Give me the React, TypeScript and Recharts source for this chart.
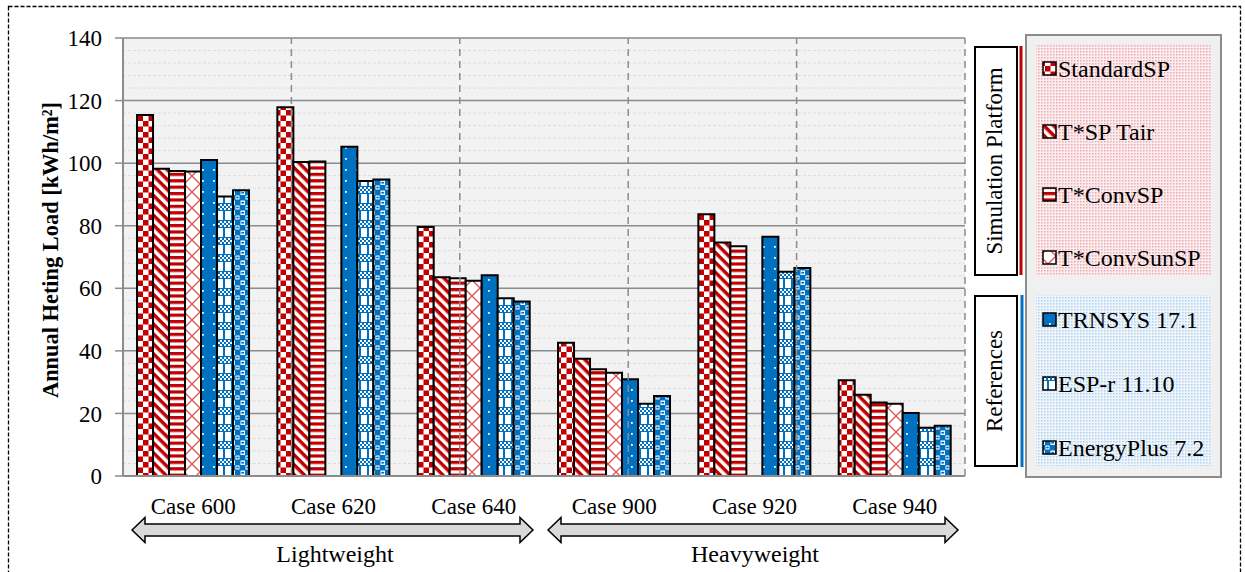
import { BarChart, Bar, XAxis, YAxis, CartesianGrid, ReferenceLine } from 'recharts';

const CASES = ['Case 600', 'Case 620', 'Case 640', 'Case 900', 'Case 920', 'Case 940'];

// Annual heating load, kWh/m2
const standardSP = [115.4, 117.9, 79.6, 42.6, 83.7, 30.6];
const tspTair = [98.2, 100.4, 63.5, 37.5, 74.6, 26.0];
const tConvSP = [97.5, 100.5, 63.2, 34.1, 73.4, 23.5];
const tConvSunSP = [97.3, null, 62.4, 33.0, null, 23.1];
const trnsys = [101.0, 105.2, 64.2, 30.9, 76.5, 20.1];
const espr = [89.3, 94.3, 56.8, 23.1, 65.3, 15.4];
const energyPlus = [91.3, 94.8, 55.8, 25.6, 66.5, 16.1];

const Y_TICKS = [0, 20, 40, 60, 80, 100, 120, 140];
const MINOR_TICKS = Array.from({ length: 36 }, (_, i) => i * 4);
const BOUNDARIES = [1, 2, 3, 4, 5, 6];

const SERIES = [
  { key: 'standardSP', label: 'StandardSP', pat: 'std', group: 'sim' },
  { key: 'tspTair', label: 'T*SP Tair', pat: 'tair', group: 'sim' },
  { key: 'tConvSP', label: 'T*ConvSP', pat: 'conv', group: 'sim' },
  { key: 'tConvSunSP', label: 'T*ConvSunSP', pat: 'sun', group: 'sim' },
  { key: 'trnsys', label: 'TRNSYS 17.1', pat: 'trn', group: 'ref' },
  { key: 'espr', label: 'ESP-r 11.10', pat: 'esp', group: 'ref' },
  { key: 'energyPlus', label: 'EnergyPlus 7.2', pat: 'ep', group: 'ref' },
];

const data = CASES.map((name, i) => ({
  name,
  standardSP: standardSP[i],
  tspTair: tspTair[i],
  tConvSP: tConvSP[i],
  tConvSunSP: tConvSunSP[i],
  trnsys: trnsys[i],
  espr: espr[i],
  energyPlus: energyPlus[i],
}));

const RED = '#C00000';
const BLUE = '#0070C0';
const FONT = '"Liberation Serif", "Times New Roman", serif';

const Patterns = ({ p }: { p: string }) => (
  <defs>
    <pattern id={p + 'std'} width={11} height={11} patternUnits="userSpaceOnUse">
      <rect width={11} height={11} fill="#fff" />
      <rect width={5.5} height={5.5} fill={RED} />
      <rect x={5.5} y={5.5} width={5.5} height={5.5} fill={RED} />
    </pattern>
    <pattern id={p + 'tair'} width={7} height={7} patternUnits="userSpaceOnUse" patternTransform="rotate(45)">
      <rect width={7} height={7} fill="#fff" />
      <rect width={7} height={3.5} fill={RED} />
    </pattern>
    <pattern id={p + 'conv'} width={6} height={6.4} patternUnits="userSpaceOnUse">
      <rect width={6} height={6.4} fill="#fff" />
      <rect width={6} height={3.2} fill={RED} />
    </pattern>
    <pattern id={p + 'sun'} width={16} height={16} patternUnits="userSpaceOnUse">
      <rect width={16} height={16} fill="#fff" />
      <path d="M0 0 L16 16 M16 0 L0 16" stroke="#E05050" strokeWidth={1.3} />
    </pattern>
    <pattern id={p + 'trn'} width={11} height={11} patternUnits="userSpaceOnUse">
      <rect width={11} height={11} fill={BLUE} />
      <rect x={4} y={4} width={1.8} height={1.8} fill="#fff" />
    </pattern>
    <pattern id={p + 'esp'} width={8} height={17} patternUnits="userSpaceOnUse">
      <rect width={8} height={17} fill={BLUE} />
      <rect x={0} y={0} width={2} height={2} fill="#fff" />
      <rect x={4} y={0} width={2} height={2} fill="#fff" />
      <rect x={2} y={2} width={2} height={2} fill="#fff" />
      <rect x={6} y={2} width={2} height={2} fill="#fff" />
      <rect x={0} y={4} width={2} height={2} fill="#fff" />
      <rect x={4} y={4} width={2} height={2} fill="#fff" />
      <rect x={1} y={7} width={6} height={9} fill="#fff" />
    </pattern>
    <pattern id={p + 'ep'} width={10} height={10} patternUnits="userSpaceOnUse">
      <rect width={10} height={10} fill={BLUE} />
      <rect x={0.5} y={0.5} width={4.5} height={4.5} fill="#fff" />
      <rect x={5.5} y={5.5} width={4} height={4} fill="#fff" />
      <ellipse cx={2.7} cy={2.7} rx={1.6} ry={1} fill={BLUE} />
      <ellipse cx={7.5} cy={7.5} rx={1.4} ry={0.9} fill={BLUE} />
    </pattern>
    <pattern id={p + 'pink'} width={3} height={3} patternUnits="userSpaceOnUse">
      <rect width={3} height={3} fill="#FBECEE" />
      <rect width={1.5} height={1.5} fill="#EBA9B0" />
    </pattern>
    <pattern id={p + 'sky'} width={3} height={3} patternUnits="userSpaceOnUse">
      <rect width={3} height={3} fill="#EEF5FB" />
      <rect width={1.5} height={1.5} fill="#B2D1EE" />
    </pattern>
  </defs>
);

const CaseTick = ({ x, y, payload }: any) => (
  <text x={x} y={y + 38} textAnchor="middle" fontSize={23} fill="#000" fontFamily={FONT}>
    {payload.value}
  </text>
);

const arrow = (x1: number, x2: number, yc: number) => {
  const h = 13;
  const pts = [
    [x1, yc], [x1 + h, yc - 12.5], [x1 + h, yc - 6], [x2 - h, yc - 6], [x2 - h, yc - 12.5],
    [x2, yc], [x2 - h, yc + 12.5], [x2 - h, yc + 6], [x1 + h, yc + 6], [x1 + h, yc + 12.5],
  ];
  return pts.map((p) => p.join(',')).join(' ');
};

const Overlay = () => {
  const sim = SERIES.filter((s) => s.group === 'sim');
  const ref = SERIES.filter((s) => s.group === 'ref');
  const item = (s: any, y: number) => (
    <g key={s.key}>
      <rect x={1043} y={y - 7} width={13} height={13} fill={`url(#o${s.pat})`} stroke="#000" strokeWidth={1.5} />
      <text x={1058} y={y + 8} fontSize={24} fill="#000">{s.label}</text>
    </g>
  );
  return (
    <svg width={1245} height={572} style={{ position: 'absolute', left: 0, top: 0, pointerEvents: 'none' }} fontFamily={FONT}>
      <Patterns p="o" />
      <rect x={8.5} y={6.5} width={1232} height={570} fill="none" stroke="#000" strokeWidth={1.3} strokeDasharray="4 2" />
      <text
        transform="translate(58,250) rotate(-90)"
        textAnchor="middle"
        fontSize={23}
        fontWeight="bold"
        fill="#000"
        textLength={296}
        lengthAdjust="spacingAndGlyphs"
      >
        Annual Heting Load [kWh/m²]
      </text>

      <polygon points={arrow(132, 533, 530)} fill="#D9D9D9" stroke="#000" strokeWidth={1.5} />
      <polygon points={arrow(548, 958, 530)} fill="#D9D9D9" stroke="#000" strokeWidth={1.5} />
      <text x={335} y={562} textAnchor="middle" fontSize={24} fill="#000">Lightweight</text>
      <text x={755} y={562} textAnchor="middle" fontSize={24} fill="#000">Heavyweight</text>

      <rect x={975} y={47} width={42} height={228} fill="#fff" stroke="#000" strokeWidth={2} />
      <text transform="translate(1002,161) rotate(-90)" textAnchor="middle" fontSize={23} fill="#000">Simulation Platform</text>
      <line x1={1021} x2={1021} y1={46} y2={275} stroke={RED} strokeWidth={3} />
      <rect x={975} y={296} width={42} height={170} fill="#fff" stroke="#000" strokeWidth={2} />
      <text transform="translate(1002,381) rotate(-90)" textAnchor="middle" fontSize={23} fill="#000">References</text>
      <line x1={1022} x2={1022} y1={295} y2={467} stroke={BLUE} strokeWidth={3} />

      <rect x={1026} y={35} width={195} height={442} fill="#F0F0F0" stroke="#8C8C8C" strokeWidth={2} />
      <rect x={1036} y={45} width={175} height={231} fill="url(#opink)" />
      <rect x={1036} y={295} width={175} height={171} fill="url(#osky)" />
      {sim.map((s, i) => item(s, 69 + i * 63))}
      {ref.map((s, i) => item(s, 320 + i * 64))}
    </svg>
  );
};

export default function App() {
  return (
    <div style={{ position: 'absolute', left: 0, top: 0, width: 1245, height: 572, background: '#fff', fontFamily: FONT }}>
      <BarChart
        width={1245}
        height={572}
        data={data}
        margin={{ top: 38, right: 280, bottom: 56, left: 0 }}
        barCategoryGap="10%"
        barGap={0}
      >
        <Patterns p="c" />
        <CartesianGrid
          vertical={false}
          horizontalValues={MINOR_TICKS}
          stroke="#DCDCDC"
          strokeDasharray="3 2"
          fill="#F2F2F2"
        />
        <CartesianGrid vertical={false} horizontalValues={Y_TICKS} stroke="#8C8C8C" strokeWidth={1.5} />
        <XAxis
          dataKey="name"
          height={40}
          tickLine={false}
          tickSize={0}
          tickMargin={0}
          tick={<CaseTick />}
          axisLine={{ stroke: '#8C8C8C', strokeWidth: 2 }}
        />
        <XAxis xAxisId="b" type="number" domain={[0, 6]} hide />
        <YAxis
          width={123}
          domain={[0, 140]}
          ticks={Y_TICKS}
          interval={0}
          tickSize={8}
          tickMargin={13}
          tickLine={{ stroke: '#8C8C8C', strokeWidth: 1.5 }}
          axisLine={{ stroke: '#8C8C8C', strokeWidth: 2 }}
          tick={{ fill: '#000', fontSize: 23, fontFamily: FONT }}
        />
        {BOUNDARIES.map((b) => (
          <ReferenceLine key={b} xAxisId="b" x={b} stroke="#8C8C8C" strokeWidth={1.5} strokeDasharray="7 5" />
        ))}
        {SERIES.map((s) => (
          <Bar
            key={s.key}
            dataKey={s.key}
            name={s.label}
            fill={`url(#c${s.pat})`}
            stroke="#000"
            strokeWidth={2}
            isAnimationActive={false}
          />
        ))}
      </BarChart>
      <Overlay />
    </div>
  );
}
